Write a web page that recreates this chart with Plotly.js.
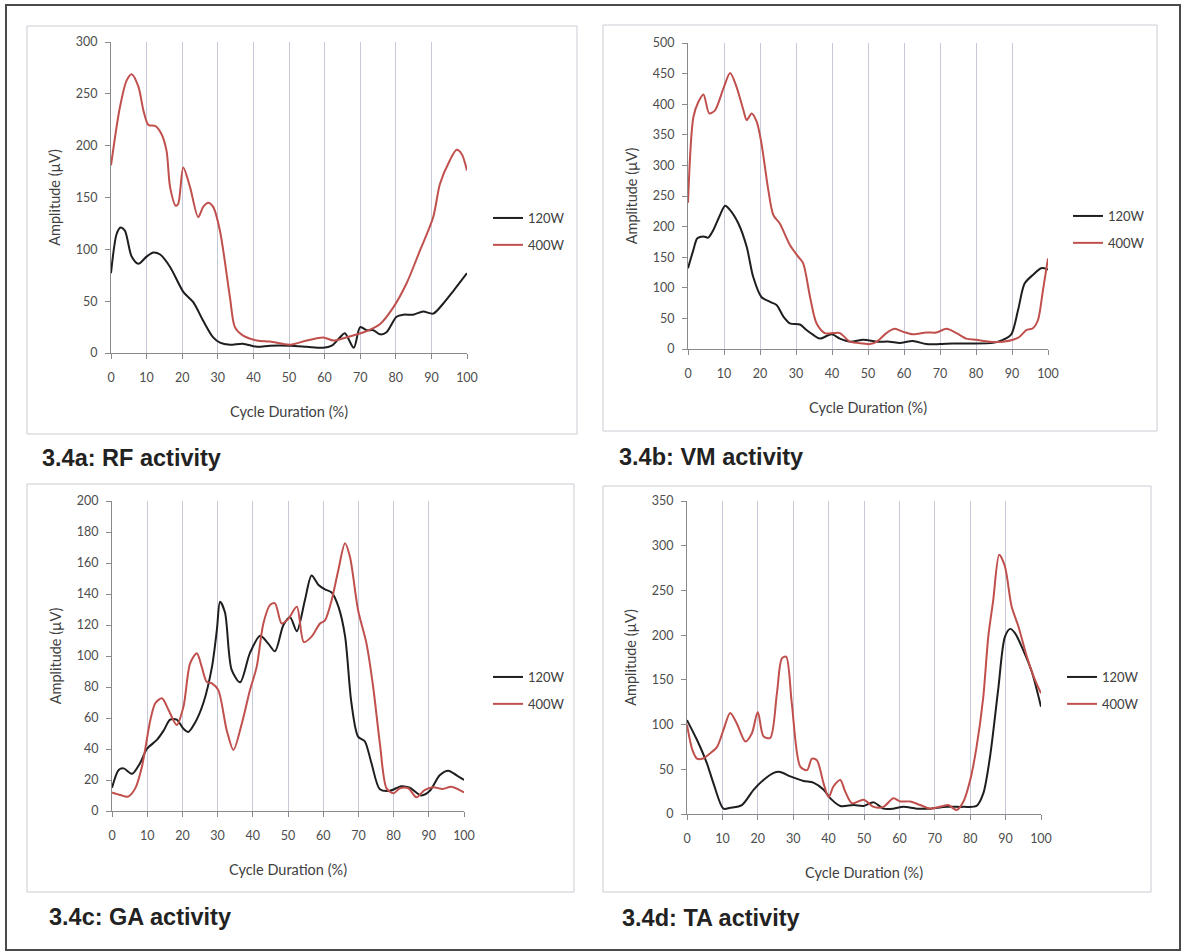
<!DOCTYPE html>
<html>
<head>
<meta charset="utf-8">
<script src="https://cdn.plot.ly/plotly-3.0.1.min.js"></script>
<style>html,body{margin:0;padding:0;background:#fff;}#chart{width:1186px;height:952px;}</style>
</head>
<body>
<div id="chart"></div>
<script>
// ---------------- data ----------------
const seriesNames = ['120W', '400W'];
const xTickLabels = ['0','10','20','30','40','50','60','70','80','90','100'];

// 3.4a RF
const rf_x_120 = [0,1.6,2.7,3.9,5.8,7.7,10,11.9,13.8,16.6,20.3,23.1,25.9,28.7,30.6,33.4,37,41,44.7,50.3,55,59.6,62,64.3,65.7,68.2,70,71.8,73.7,75.6,77.4,80.2,82.1,84.9,87.7,90.5,93.4,96.2,100];
const rf_y_120 = [77,115,121,118,93,86,93,97,95,83,59,49,31,15,10,8,9,6,7,7,6,5,7,15,19,5,25,22,22,18,20,35,37,37,40,38,48,60,77];
const rf_x_400 = [0,2.5,4.4,5.8,7.7,9.1,10.5,12.4,14.2,15.6,16.6,18.2,18.9,20.3,22.2,24.5,25.9,27.3,28.7,30.6,33.4,34.8,37,41,44.7,50.3,55,59.6,62.5,66,71,75.6,79.3,83,86.8,90.5,92.4,95.2,97.1,98.5,100];
const rf_y_400 = [181,237,263,269,257,234,220,219,211,195,160,142,144,179,160,131,141,145,141,118,54,25,17,12,11,8,12,15,12,15,20,28,44,67,99,131,163,186,196,192,176];

// 3.4b VM
const vm_x_120 = [0,1.5,2.6,4.3,5.6,7,8.9,10.3,11.7,14,16.3,18.1,20.4,22.8,24.6,26.5,28.3,31.1,32.9,34.8,36.6,39.9,42.2,45,48.7,52.4,56,58.8,62.5,66.2,69.9,73.6,78.3,84.7,87.5,89.8,91.7,93.5,95.8,98.1,100];
const vm_y_120 = [132,162,181,184,182,194,219,234,227,205,167,118,85,77,72,53,42,40,31,23,17,24,17,12,15,12,12,10,13,8,8,9,9,10,15,24,64,107,121,132,130];
const vm_x_400 = [0,1.5,2.9,4.3,5.9,7.5,9.8,11.7,13.5,15.4,16.3,17.7,19.1,20.4,22.3,23.7,25.5,28.3,30.6,32,33.9,35.7,38,40.3,42.2,45,48.7,50.5,52.4,55.1,57.4,59.8,62.5,66.2,69,71.8,74.6,77.3,80.1,83.8,87.5,90.3,92.1,94,95.8,97.2,98.6,100];
const vm_y_400 = [239,379,404,416,385,390,425,451,428,390,374,385,371,336,260,219,205,170,151,140,85,42,26,26,26,12,9,8,12,26,33,28,24,27,27,33,26,17,15,12,12,15,20,31,34,47,96,148];

// 3.4c GA
const ga_x_120 = [0,1.9,3.3,5.7,8,9.9,12.8,14.7,16.5,18.4,20.3,21.7,23.6,26,28.4,29.8,30.7,32.1,34,36.4,39.2,42.1,44.4,46.3,48.7,50.6,52.5,54.8,56.7,58.6,60.5,62.4,64.3,66.2,68,69.9,71.8,73.7,76.1,78.9,82.2,84.6,87.9,90.3,93.1,95.5,97.9,100];
const ga_y_120 = [15,26.5,27.5,24,31,40,46,52,59,59,53,51,57,70,93,117,135,128,91,83,102,113,108,103,120,125,116,136,152,146,143,141,132,113,70,48,45,31,14,13,16,15,10,13,23,26,23,20];
const ga_x_400 = [0,2.4,4.5,6.6,8.5,10.9,12.3,14.2,16.1,18.4,20.3,22.2,24.1,25.5,26.9,28.4,30.2,32.6,34.5,36.9,39.2,41.1,43,44.9,46.3,48.2,50.1,52.5,54.5,56.7,59.1,60.5,62.4,64.3,66.2,67.6,69.9,72.3,74.2,76.1,78,79.9,81.8,84.2,86.5,88.8,91.2,94,96.4,100];
const ga_y_400 = [12,10.3,9.2,14.6,28.6,58.7,69.5,72.7,65,55.5,67.3,95.3,101.7,93,83.4,82.4,78,52,39.4,56.6,78,93,121,133,134,121,124,131.8,109,112.5,121,123,136,155.5,172.7,164,129.7,108,80,43.7,14.6,11.4,14.6,14.6,8.8,13.5,15.3,14.2,15.7,12];

// 3.4d TA
const ta_x_120 = [0,2.8,5.6,7.5,10.3,12.2,15.5,18.8,21.6,24.5,26.3,29.2,32.9,35.7,38.6,40.5,43.3,47,49.9,52.7,55.5,58.3,61.1,64.9,68.7,73.4,78.1,81.8,83.7,85.6,87.9,89.8,91.3,92.7,95,97.4,100];
const ta_y_120 = [105,83,57,34,6,7,10,27,38,46,47,42,37,35,27,17.5,9,10,9,13,6,6,8,6,6,8,8,9,23,64,139,198,207,202,183,159,120];
const ta_x_400 = [0,1.5,2.8,4.5,6.6,8.5,10.3,12.2,14.1,16.5,18.3,20,21.6,23.5,25.4,26.8,28,29.6,32,33.9,35.3,36.7,38.6,40,41.4,43.3,44.7,46.6,49.9,52.7,55.5,58.3,60.2,63,65.9,68.7,72.4,73.8,76.2,78.1,80,81.8,83.7,85.1,86.5,88.2,89.8,91.7,93.6,96,98.3,100];
const ta_y_400 = [100,72,62,62,68,75,94,113,101,81,90,114,87,85,135,174,176,124,53,49,62,60,34,19,31,38,25,12,16,8,8,17.5,14,14,10,6,9,10,4.5,14,38,75,131,198,239,290,277,232,210,176,150,135];

const captions = ['3.4a: RF activity', '3.4b: VM activity', '3.4c: GA activity', '3.4d: TA activity'];
const yMax = [300, 500, 200, 350];
const yStep = [50, 50, 20, 50];

// ---------------- layout helpers ----------------
const W = 1186, H = 952;
const X = px => px / W;
const Y = py => 1 - py / H;

const COL120 = '#1e1e1e';
const COL400 = '#c0504d';
const tickFont = {family: 'Lato, "Open Sans", sans-serif', size: 12.5, color: '#4d4d4d'};
const titleFont = {family: 'Lato, "Open Sans", sans-serif', size: 14.5, color: '#404040'};
const legendFont = {family: 'Lato, "Open Sans", sans-serif', size: 13, color: '#404040'};

// plot-area rectangles [left, right, top, bottom] in px
const plotBoxes = [[111, 467, 42, 353], [688, 1048, 43, 349], [112, 464, 501, 811], [687, 1041, 501, 814]];
// outer chart frames
const frames = [[27, 577, 26, 434], [603, 1157, 25, 431], [27, 574, 484, 892], [603, 1151, 486, 892]];
const capPos = [[40, 457.5], [617, 456.5], [47, 916.5], [620, 917.5]];
const legendPos = [[488, 203], [1068, 201], [488, 662], [1062, 662]];

const data = [];
const panels = [
  [rf_x_120, rf_y_120, rf_x_400, rf_y_400],
  [vm_x_120, vm_y_120, vm_x_400, vm_y_400],
  [ga_x_120, ga_y_120, ga_x_400, ga_y_400],
  [ta_x_120, ta_y_120, ta_x_400, ta_y_400]
];
panels.forEach((p, i) => {
  const s = i === 0 ? '' : String(i + 1);
  const lg = 'legend' + s;
  data.push({x: p[0], y: p[1], name: seriesNames[0], type: 'scatter', mode: 'lines',
    line: {color: COL120, width: 2, shape: 'spline', smoothing: 0.8},
    xaxis: 'x' + s, yaxis: 'y' + s, legend: lg, legendgroup: 'a' + i, hoverinfo: 'skip'});
  data.push({x: p[2], y: p[3], name: seriesNames[1], type: 'scatter', mode: 'lines',
    line: {color: COL400, width: 2, shape: 'spline', smoothing: 0.8},
    xaxis: 'x' + s, yaxis: 'y' + s, legend: lg, legendgroup: 'b' + i, hoverinfo: 'skip'});
});

const layout = {
  width: W, height: H,
  margin: {l: 0, r: 0, t: 0, b: 0},
  paper_bgcolor: '#ffffff', plot_bgcolor: 'rgba(0,0,0,0)',
  showlegend: true,
  shapes: [], annotations: []
};

plotBoxes.forEach((b, i) => {
  const s = i === 0 ? '' : String(i + 1);
  layout['xaxis' + s] = {
    domain: [X(b[0]), X(b[1])], anchor: 'y' + s, range: [0, 100],
    tickmode: 'array', tickvals: xTickLabels.map(Number), ticktext: xTickLabels,
    showgrid: true, gridcolor: '#c6c9da', gridwidth: 1,
    showline: true, linecolor: '#8a8a8a', linewidth: 1,
    ticks: 'outside', ticklen: 5, tickcolor: '#8a8a8a', zeroline: false,
    tickfont: tickFont, ticklabelstandoff: 8,
    title: {text: 'Cycle Duration (%)', font: titleFont, standoff: 22},
    automargin: false, fixedrange: true
  };
  layout['yaxis' + s] = {
    domain: [Y(b[3]), Y(b[2])], anchor: 'x' + s, range: [0, yMax[i]], dtick: yStep[i], tick0: 0,
    showgrid: false, showline: true, linecolor: '#8a8a8a', linewidth: 1,
    ticks: 'outside', ticklen: 5, tickcolor: '#8a8a8a', zeroline: false,
    tickfont: tickFont, ticklabelstandoff: 5,
    title: {text: 'Amplitude (µV)', font: titleFont, standoff: 11},
    automargin: false, fixedrange: true
  };
  const lg = 'legend' + s;
  layout[lg] = {
    x: X(legendPos[i][0]), y: Y(legendPos[i][1]), xanchor: 'left', yanchor: 'top',
    xref: 'paper', yref: 'paper', bgcolor: 'rgba(0,0,0,0)', borderwidth: 0,
    font: legendFont, traceorder: 'grouped', tracegroupgap: 7, itemwidth: 30
  };
});

// outer border
layout.shapes.push({type: 'rect', xref: 'paper', yref: 'paper', x0: X(6), x1: X(1180), y0: Y(950), y1: Y(5),
  line: {color: '#4a4a4a', width: 2}, fillcolor: 'rgba(0,0,0,0)', layer: 'below'});
frames.forEach(f => {
  layout.shapes.push({type: 'rect', xref: 'paper', yref: 'paper', x0: X(f[0]), x1: X(f[1]), y0: Y(f[3]), y1: Y(f[2]),
    line: {color: '#c9ccd3', width: 1}, fillcolor: 'rgba(0,0,0,0)', layer: 'below'});
});
captions.forEach((c, i) => {
  layout.annotations.push({text: c, xref: 'paper', yref: 'paper', x: X(capPos[i][0]), y: Y(capPos[i][1]),
    xanchor: 'left', yanchor: 'middle', showarrow: false,
    font: {family: '"Liberation Sans", Arial, sans-serif', size: 23.5, color: '#222222', weight: 'bold'}});
});

Plotly.newPlot('chart', data, layout, {staticPlot: true, displayModeBar: false});
</script>
</body>
</html>
